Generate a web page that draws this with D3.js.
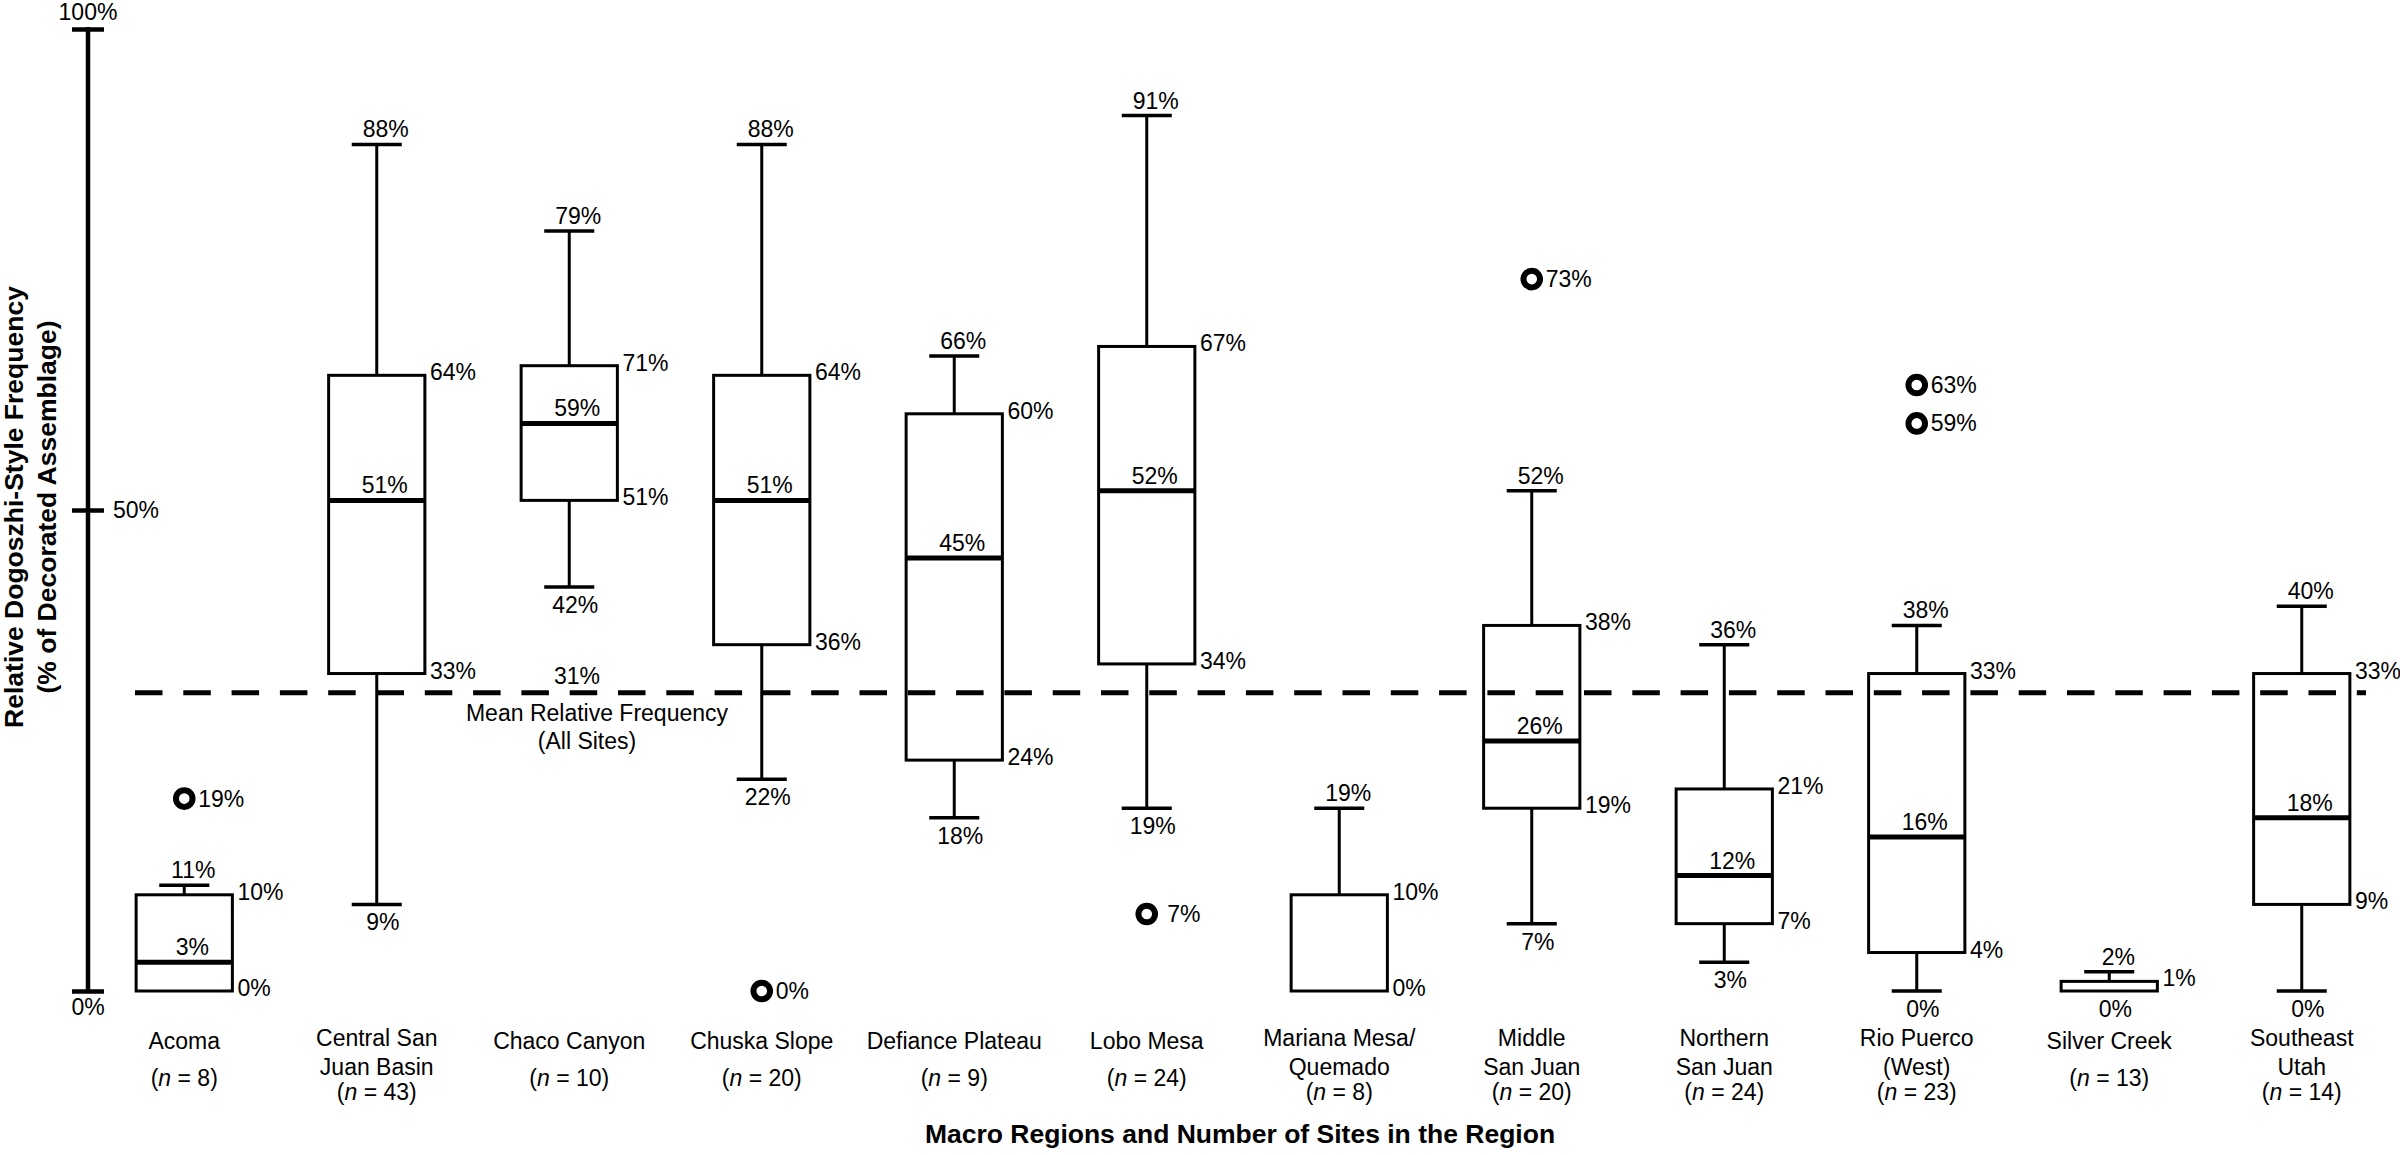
<!DOCTYPE html>
<html><head><meta charset="utf-8">
<script src="https://cdn.jsdelivr.net/npm/d3@7"></script>
<style>
body{margin:0;background:#fff}
svg{display:block;background:#fff}
text{font-family:"Liberation Sans",Arial,Helvetica,sans-serif;fill:#000}
</style>
</head><body>
<svg id="chart" width="2400" height="1155"></svg>
<script>
// ---------- data ----------
const categoryLines = [["Acoma"],["Central San","Juan Basin"],["Chaco Canyon"],["Chuska Slope"],["Defiance Plateau"],["Lobo Mesa"],["Mariana Mesa/","Quemado"],["Middle","San Juan"],["Northern","San Juan"],["Rio Puerco","(West)"],["Silver Creek"],["Southeast","Utah"]];
const siteCounts = [8,43,10,20,9,24,8,20,24,23,13,14];
const whiskerMax = [11,88,79,88,66,91,19,52,36,38,2,40];
const upperQuartile = [10,64,65,64,60,67,10,38,21,33,1,33];
const medians = [3,51,59,51,45,52,null,26,12,16,null,18];
const lowerQuartile = [0,33,51,36,24,34,0,19,7,4,0,9];
const whiskerMin = [0,9,42,22,18,19,0,7,3,0,0,0];
const maxLabels = ["11%","88%","79%","88%","66%","91%","19%","52%","36%","38%","2%","40%"];
const q3Labels = ["10%","64%","71%","64%","60%","67%","10%","38%","21%","33%","1%","33%"];
const medianLabels = ["3%","51%","59%","51%","45%","52%","","26%","12%","16%","","18%"];
const q1Labels = ["0%","33%","51%","36%","24%","34%","0%","19%","7%","4%","","9%"];
const minLabels = ["","9%","42%","22%","18%","19%","","7%","3%","0%","0%","0%"];
const outlierCategory = [0,3,5,7,9,9];
const outlierValues = [20,0,8,74,63,59];
const outlierLabels = ["19%","0%"," 7%","73%","63%","59%"];
const meanValue = 31;
const meanLabel = "31%";
const yTicks = [0,50,100];
const yTickLabels = ["0%","50%","100%"];

// ---------- scales ----------
const svg = d3.select("#chart");
const x = d3.scaleBand().domain(d3.range(categoryLines.length)).range([88,2398]).padding(0);
const y = d3.scaleLinear().domain([0,100]).range([991,29]);
const cx = i => x(i) + x.bandwidth()/2;
const boxW = x.bandwidth()*0.5;
const capW = x.bandwidth()*0.26;
const FS = 23;

function txt(g, px, py, s, anchor, extra){
  const t = g.append("text").attr("x",px).attr("y",py).attr("font-size",FS)
    .attr("text-anchor",anchor||"start").text(s);
  if(extra) extra(t);
  return t;
}

// ---------- y axis ----------
const axisX = 88;
const ax = svg.append("g").attr("transform",`translate(${axisX+16},0)`)
  .call(d3.axisLeft(y).tickValues(yTicks).tickSize(32).tickSizeOuter(0).tickFormat(""));
ax.select(".domain").remove();
ax.selectAll(".tick line").attr("stroke","#000").attr("stroke-width",4.5);
svg.append("line").attr("x1",axisX).attr("x2",axisX).attr("y1",y(0)+2).attr("y2",y(100)-2)
  .attr("stroke","#000").attr("stroke-width",4.5);
const axLab = svg.append("g");
txt(axLab, axisX, y(100)-9, yTickLabels[2], "middle");
txt(axLab, axisX+25, y(50)+8, yTickLabels[1], "start");
txt(axLab, axisX, y(0)+24, yTickLabels[0], "middle");

// y title
const yt = svg.append("text").attr("transform","rotate(-90)").attr("font-size",26.5).attr("font-weight","bold")
  .attr("text-anchor","middle");
yt.append("tspan").attr("x",-507).attr("y",23).text("Relative Dogoszhi-Style Frequency");
yt.append("tspan").attr("x",-507).attr("y",56).text("(% of Decorated Assemblage)");

// ---------- boxes ----------
const boxes = svg.append("g");
categoryLines.forEach((_, i) => {
  const c = cx(i);
  const g = boxes.append("g");
  // upper whisker
  g.append("line").attr("x1",c).attr("x2",c).attr("y1",y(upperQuartile[i])).attr("y2",y(whiskerMax[i]))
    .attr("stroke","#000").attr("stroke-width",3);
  g.append("line").attr("x1",c-capW/2).attr("x2",c+capW/2).attr("y1",y(whiskerMax[i])).attr("y2",y(whiskerMax[i]))
    .attr("stroke","#000").attr("stroke-width",3.5);
  // lower whisker
  if (whiskerMin[i] < lowerQuartile[i]) {
    g.append("line").attr("x1",c).attr("x2",c).attr("y1",y(lowerQuartile[i])).attr("y2",y(whiskerMin[i]))
      .attr("stroke","#000").attr("stroke-width",3);
    g.append("line").attr("x1",c-capW/2).attr("x2",c+capW/2).attr("y1",y(whiskerMin[i])).attr("y2",y(whiskerMin[i]))
      .attr("stroke","#000").attr("stroke-width",3.5);
  }
  // box
  g.append("rect").attr("x",c-boxW/2).attr("y",y(upperQuartile[i]))
    .attr("width",boxW).attr("height",y(lowerQuartile[i])-y(upperQuartile[i]))
    .attr("fill","#fff").attr("stroke","#000").attr("stroke-width",3);
  if (medians[i] !== null) {
    g.append("line").attr("x1",c-boxW/2).attr("x2",c+boxW/2).attr("y1",y(medians[i])).attr("y2",y(medians[i]))
      .attr("stroke","#000").attr("stroke-width",5);
  }
  // labels
  txt(g, c+9, y(whiskerMax[i])-7, maxLabels[i], "middle");
  txt(g, c+boxW/2+5, y(upperQuartile[i])+5, q3Labels[i], "start");
  if (medianLabels[i]) txt(g, c+8, y(medians[i])-7, medianLabels[i], "middle");
  if (q1Labels[i]) txt(g, c+boxW/2+5, y(lowerQuartile[i])+5, q1Labels[i], "start");
  if (minLabels[i]) txt(g, c+6, y(whiskerMin[i])+26, minLabels[i], "middle");
});

// ---------- mean line ----------
svg.append("line").attr("x1",135).attr("x2",2366).attr("y1",y(meanValue)).attr("y2",y(meanValue))
  .attr("stroke","#000").attr("stroke-width",5).attr("stroke-dasharray","27.5 20.8");
const ml = svg.append("g");
txt(ml, 577, y(meanValue)-9, meanLabel, "middle");
txt(ml, 597, y(meanValue)+28, "Mean Relative Frequency", "middle");
txt(ml, 587, y(meanValue)+56, "(All Sites)", "middle");

// ---------- outliers ----------
const out = svg.append("g");
outlierValues.forEach((v, k) => {
  const c = cx(outlierCategory[k]);
  out.append("circle").attr("cx",c).attr("cy",y(v)).attr("r",8.3)
    .attr("fill","#fff").attr("stroke","#000").attr("stroke-width",6);
  txt(out, c+14, y(v)+8, outlierLabels[k], "start").style("white-space","pre").attr("xml:space","preserve");
});

// ---------- category labels ----------
const cl = svg.append("g");
categoryLines.forEach((lines, i) => {
  const c = cx(i);
  const ys = lines.length === 1 ? [1049, 1086] : [1046, 1075, 1100];
  lines.forEach((s, j) => txt(cl, c, ys[j], s, "middle"));
  const t = cl.append("text").attr("x",c).attr("y",ys[lines.length]).attr("font-size",FS).attr("text-anchor","middle");
  t.append("tspan").text("(");
  t.append("tspan").attr("font-style","italic").text("n");
  t.append("tspan").text(" = " + siteCounts[i] + ")");
});

// x title
svg.append("text").attr("x",1240).attr("y",1143).attr("font-size",26.5).attr("font-weight","bold")
  .attr("text-anchor","middle").text("Macro Regions and Number of Sites in the Region");
</script>
</body></html>
